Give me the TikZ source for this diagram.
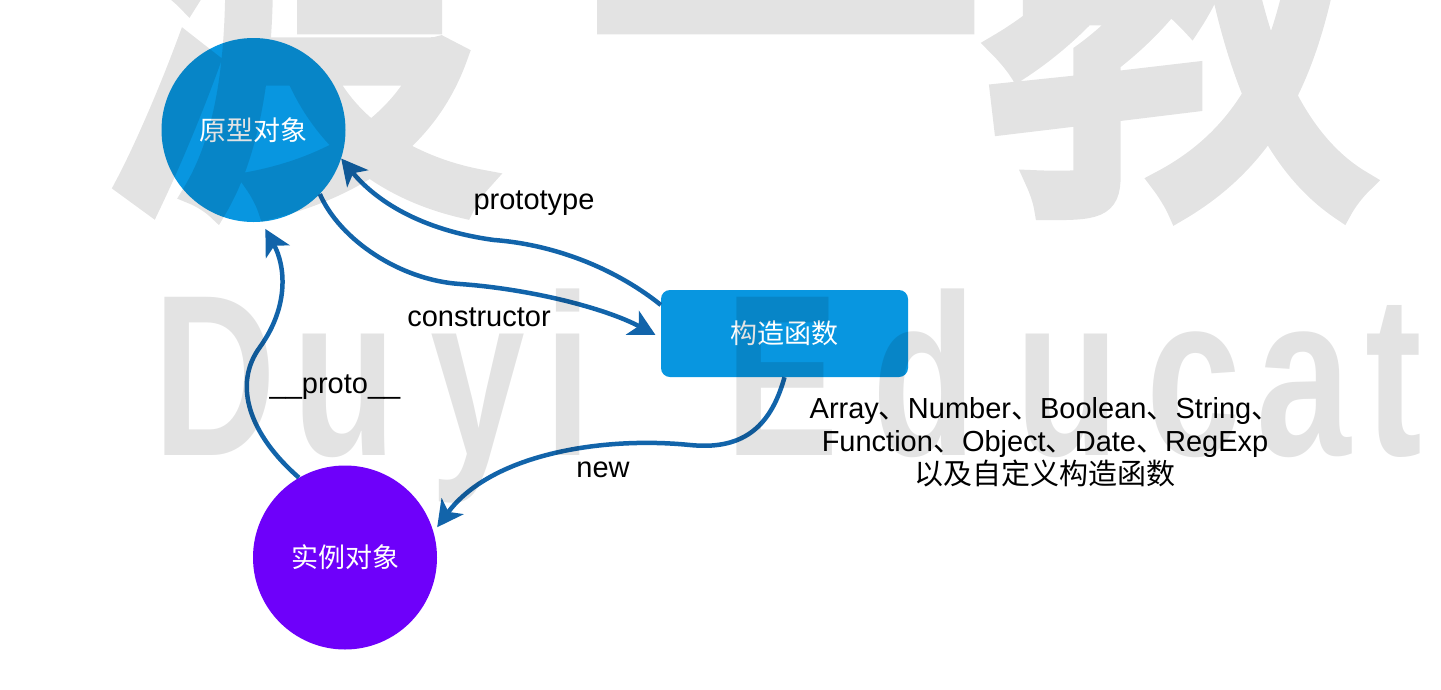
\documentclass[tikz,border=0pt]{standalone}
\usepackage{fontspec}
\setmainfont{Liberation Sans}
\newfontfamily\cjk{Noto Sans CJK SC}
\newfontfamily\cjkwm[FakeBold=5]{Noto Sans CJK SC}
\usetikzlibrary{arrows.meta}
\definecolor{nodeblue}{RGB}{8,150,224}
\definecolor{instpurple}{RGB}{110,0,250}
\definecolor{arrowblue}{RGB}{18,100,170}
\tikzset{
  circnode/.style={circle, minimum size=184pt, inner sep=0pt, text=white, font=\cjk\fontsize{27}{32}\selectfont},
  ctorbox/.style={rectangle, rounded corners=9pt, minimum width=247pt, minimum height=87pt, inner sep=0pt, fill=nodeblue, text=white, font=\cjk\fontsize{27}{32}\selectfont},
  conn/.style={draw=arrowblue, line width=4.5pt, -{Stealth[length=26pt,width=27pt,inset=7pt]}},
  lbl/.style={inner sep=0pt, font=\fontsize{29}{33}\selectfont, text=black},
  wmlat/.style={anchor=base west, inner sep=0pt, font=\bfseries\fontsize{230}{230}\selectfont, xscale=0.74, text=black},
  wmcjk/.style={anchor=base, inner sep=0pt, font=\cjkwm\fontsize{434}{434}\selectfont, xscale=0.9, text=black}
}
\begin{document}
\begin{tikzpicture}[x=1pt,y=-1pt]
\useasboundingbox (0,0) rectangle (1441,689);
\fill[white] (0,0) rectangle (1441,689);

\node[circnode, fill=nodeblue] (proto) at (253.5,130) {原型对象};
\node[circnode, fill=instpurple] (inst) at (345,557.5) {实例对象};
\node[ctorbox] (ctor) at (784.5,333.5) {构造函数};

\draw[conn] (ctor.167) .. controls (620,272) and (560,245) .. (494,240)
  .. controls (420,230) and (375,200) .. (proto.-18);
\draw[conn, shorten >=6pt] (proto.-44) .. controls (340,240) and (400,280) .. (460,284)
  .. controls (530,289) and (605,308) .. (ctor.182);
\draw[conn, shorten >=8pt] (inst.120) .. controls (250,435) and (232,385) .. (260,347)
  .. controls (290,305) and (285,265) .. (proto.-85);
\draw[conn, shorten >=6pt] (ctor.south) .. controls (770,430) and (740,450) .. (690,445)
  .. controls (600,436) and (490,455) .. (inst.16);

\node[lbl] (lproto) at (534,203) {prototype};
\node[lbl] (lctor) at (479,317) {constructor};
\node[lbl] (l__) at (335,387) {\_\_proto\_\_};
\node[lbl] (lnew) at (603,470) {new};
\node[lbl, align=center] (list) at (1045,442)
  {Array{\cjk 、}Number{\cjk 、}Boolean{\cjk 、}String{\cjk 、}\\
   Function{\cjk 、}Object{\cjk 、}Date{\cjk 、}RegExp\\
   {\cjk 以及自定义构造函数}};

\begin{scope}[transparency group, opacity=0.11]
\clip (0,0) rectangle (1441,689);
\node[wmcjk] (w1) at (300,175) {渡};
\node[wmcjk] (w2) at (785,175) {一};
\node[wmcjk] (w3) at (1180,175) {教};
\node[wmlat] (d1) at (153,455) {D};
\node[wmlat] (d2) at (292,455) {u};
\node[wmlat] (d3) at (430,455) {y};
\node[wmlat] (d4) at (544,455) {i};
\node[wmlat] (d5) at (725,455) {E};
\node[wmlat] (d6) at (872,455) {d};
\node[wmlat] (d7) at (1015,455) {u};
\node[wmlat] (d8) at (1146,455) {c};
\node[wmlat] (d9) at (1256,455) {a};
\node[wmlat] (d10) at (1365,455) {t};
\end{scope}
\end{tikzpicture}
\end{document}
